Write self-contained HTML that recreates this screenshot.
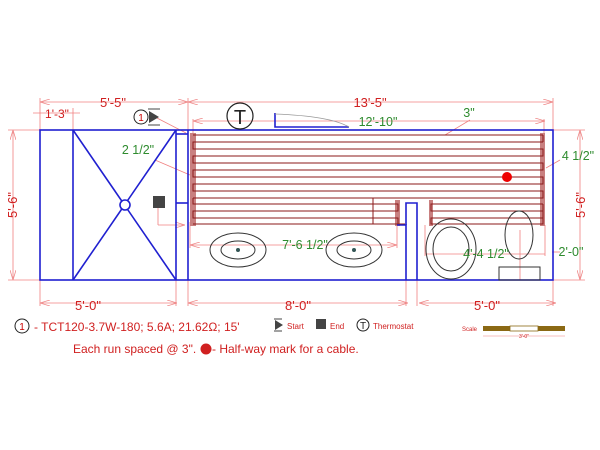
<!DOCTYPE html>
<html><head><meta charset="utf-8"><style>
html,body{margin:0;padding:0;background:#fff;}
svg{display:block;font-family:"Liberation Sans",Arial,sans-serif;}
</style></head><body>
<svg width="600" height="450" viewBox="0 0 600 450" xmlns="http://www.w3.org/2000/svg">
<defs>
<marker id="a" markerWidth="10" markerHeight="6" refX="10" refY="3" orient="auto-start-reverse" markerUnits="userSpaceOnUse"><path d="M0,0 L10,3 L0,6" fill="none" stroke="#e88" stroke-width="0.8"/></marker>
</defs>
<g stroke="#f08080" stroke-width="0.8" fill="none">
<!-- top dims -->
<line x1="40" y1="102" x2="188" y2="102" marker-start="url(#a)" marker-end="url(#a)"/>
<line x1="188" y1="102" x2="553" y2="102" marker-start="url(#a)" marker-end="url(#a)"/>
<line x1="40" y1="98" x2="40" y2="130"/><line x1="188" y1="98" x2="188" y2="130"/><line x1="553" y1="98" x2="553" y2="130"/>
<line x1="33" y1="113" x2="80" y2="113"/><line x1="73" y1="108" x2="73" y2="130"/>
<line x1="193" y1="121" x2="545" y2="121" marker-start="url(#a)" marker-end="url(#a)"/>
<line x1="193" y1="119" x2="193" y2="135"/><line x1="544" y1="119" x2="544" y2="135"/>
<!-- left/right vertical -->
<line x1="13" y1="130" x2="13" y2="280" marker-start="url(#a)" marker-end="url(#a)"/>
<line x1="8" y1="130" x2="40" y2="130"/><line x1="8" y1="280" x2="40" y2="280"/>
<line x1="580" y1="130" x2="580" y2="280" marker-start="url(#a)" marker-end="url(#a)"/>
<line x1="553" y1="130" x2="585" y2="130"/><line x1="553" y1="280" x2="585" y2="280"/>
<!-- bottom dims -->
<line x1="40" y1="303" x2="177" y2="303" marker-start="url(#a)" marker-end="url(#a)"/>
<line x1="188" y1="303" x2="408" y2="303" marker-start="url(#a)" marker-end="url(#a)"/>
<line x1="419" y1="303" x2="556" y2="303" marker-start="url(#a)" marker-end="url(#a)"/>
<line x1="40" y1="280" x2="40" y2="306"/><line x1="176" y1="280" x2="176" y2="306"/><line x1="188" y1="280" x2="188" y2="306"/>
<line x1="406" y1="280" x2="406" y2="306"/><line x1="417" y1="280" x2="417" y2="306"/><line x1="553" y1="280" x2="553" y2="306"/>
<!-- internal dims -->
<line x1="190" y1="245" x2="397" y2="245" marker-start="url(#a)" marker-end="url(#a)"/>
<line x1="190" y1="222" x2="190" y2="248"/><line x1="397" y1="225" x2="397" y2="248"/>
<line x1="425" y1="254" x2="545" y2="254"/><line x1="425" y1="225" x2="425" y2="256"/><line x1="545" y1="225" x2="545" y2="256"/>
<line x1="158" y1="203" x2="158" y2="225"/><line x1="158" y1="225" x2="185" y2="225" marker-end="url(#a)"/>
<line x1="155" y1="117" x2="186" y2="133"/><line x1="155" y1="160" x2="190" y2="175"/>
<line x1="445" y1="135" x2="470" y2="120"/><line x1="546" y1="168" x2="560" y2="160"/>
<line x1="520" y1="230" x2="520" y2="280"/><line x1="552" y1="252" x2="560" y2="252"/>
</g>
<!-- cable shading -->
<rect x="190" y="133" width="6" height="93" fill="#c98080"/>
<rect x="540" y="133" width="5" height="93" fill="#c98080"/>
<rect x="395" y="200" width="5" height="26" fill="#c98080"/>
<rect x="429" y="200" width="4" height="26" fill="#c98080"/>
<g stroke="#8b1a1a" stroke-width="1" fill="none">
<line x1="193" y1="135" x2="543" y2="135"/>
<path d="M543,142 H193 V149 H543 V156 H193 V163 H543 V170 H193 V177 H543 V184 H193 V191 H543 V198 H193"/>
<path d="M543,135 V142"/>
<path d="M193,198 V204 H398 V211 H193 V218 H398 V224 H193"/>
<path d="M543,198 H373 V224 H405"/>
<path d="M543,204 H431 V211 H543 V218 H431 V224 H543 V204"/>
</g>
<!-- walls -->
<g stroke="#2020d0" stroke-width="1.6" fill="none">
<rect x="40" y="130" width="513" height="150"/>
<line x1="73" y1="130" x2="73" y2="280"/>
<line x1="176" y1="130" x2="176" y2="280"/>
<line x1="188" y1="130" x2="188" y2="280"/>
<line x1="176" y1="134" x2="188" y2="134"/>
<line x1="176" y1="203" x2="188" y2="203"/>
<line x1="73" y1="130" x2="176" y2="280"/><line x1="176" y1="130" x2="73" y2="280"/>
<polyline points="397,225 406,225 406,280"/>
<polyline points="406,225 406,203 417,203 417,280"/>
<polyline points="275,113 275,127 349,127"/>
</g>
<circle cx="125" cy="205" r="5" fill="#fff" stroke="#2020d0" stroke-width="1.6"/>
<rect x="153" y="196" width="12" height="12" fill="#444"/>
<path d="M275,114 Q330,116 349,127" fill="none" stroke="#999" stroke-width="0.8"/>
<!-- fixtures -->
<g stroke="#333" stroke-width="1" fill="none">
<ellipse cx="238" cy="250" rx="28" ry="17"/><ellipse cx="238" cy="250" rx="17" ry="9"/>
<ellipse cx="354" cy="250" rx="28" ry="17"/><ellipse cx="354" cy="250" rx="17" ry="9"/>
<ellipse cx="451" cy="249" rx="25" ry="30"/><ellipse cx="451" cy="249" rx="18" ry="22"/>
<ellipse cx="519" cy="235" rx="14" ry="24"/>
<rect x="499" y="267" width="41" height="13"/>
</g>
<circle cx="238" cy="250" r="2" fill="#355"/><circle cx="354" cy="250" r="2" fill="#355"/>
<circle cx="507" cy="177" r="5" fill="#e00"/>
<!-- thermostat, start -->
<circle cx="240" cy="116" r="13" fill="none" stroke="#222" stroke-width="1.2"/>
<text x="240" y="124" font-size="20" text-anchor="middle" fill="#222">T</text>
<circle cx="141" cy="117" r="7" fill="none" stroke="#222" stroke-width="1"/>
<text x="141" y="121" font-size="10" text-anchor="middle" fill="#c00">1</text>
<path d="M149,111 L159,117 L149,123Z" fill="#444"/><line x1="148" y1="109" x2="160" y2="109" stroke="#444"/><line x1="148" y1="125" x2="160" y2="125" stroke="#444"/>
<!-- labels -->
<g font-size="13" fill="#d02020" text-anchor="middle">
<text x="113" y="107">5'-5"</text>
<text x="370" y="107">13'-5"</text>
<text x="57" y="118" font-size="12">1'-3"</text>
<text x="88" y="310">5'-0"</text>
<text x="298" y="310">8'-0"</text>
<text x="487" y="310">5'-0"</text>
<text transform="translate(17,205) rotate(-90)">5'-6"</text>
<text transform="translate(585,205) rotate(-90)">5'-6"</text>
</g>
<g font-size="12.5" fill="#2e8b2e" text-anchor="middle">
<text x="378" y="126">12'-10"</text>
<text x="469" y="117">3"</text>
<text x="138" y="154">2 1/2"</text>
<text x="578" y="160">4 1/2"</text>
<text x="305" y="249">7'-6 1/2"</text>
<text x="486" y="258">4'-4 1/2"</text>
<text x="571" y="256">2'-0"</text>
</g>
<!-- legend -->
<circle cx="22" cy="326" r="7" fill="none" stroke="#222"/>
<text x="22" y="330" font-size="10" text-anchor="middle" fill="#c00">1</text>
<text x="34" y="331" font-size="12" fill="#d02020">- TCT120-3.7W-180; 5.6A; 21.62Ω; 15'</text>
<path d="M275,320 L283,325 L275,330Z" fill="#444"/><line x1="274" y1="319" x2="282" y2="319" stroke="#444"/><line x1="274" y1="331" x2="282" y2="331" stroke="#444"/>
<text x="287" y="329" font-size="8" fill="#d02020">Start</text>
<rect x="316" y="319" width="10" height="10" fill="#444"/>
<text x="330" y="329" font-size="8" fill="#d02020">End</text>
<circle cx="363" cy="325" r="6" fill="none" stroke="#222"/>
<text x="363" y="329" font-size="10" text-anchor="middle" fill="#222">T</text>
<text x="373" y="329" font-size="8" fill="#d02020">Thermostat</text>
<text x="73" y="353" font-size="12" fill="#d02020">Each run spaced @ 3".</text>
<circle cx="206" cy="349" r="5.5" fill="#d02020"/>
<text x="212" y="353" font-size="12" fill="#d02020">- Half-way mark for a cable.</text>
<text x="462" y="331" font-size="6" fill="#d02020">Scale</text>
<rect x="483" y="326" width="27" height="5" fill="#8b6914"/>
<rect x="510" y="326" width="28" height="5" fill="#fff" stroke="#8b6914" stroke-width="0.8"/>
<rect x="538" y="326" width="27" height="5" fill="#8b6914"/>
<line x1="483" y1="336" x2="565" y2="336" stroke="#f08080" stroke-width="0.6"/>
<text x="524" y="338" font-size="5" text-anchor="middle" fill="#d02020">3'-0"</text>
</svg>
</body></html>
